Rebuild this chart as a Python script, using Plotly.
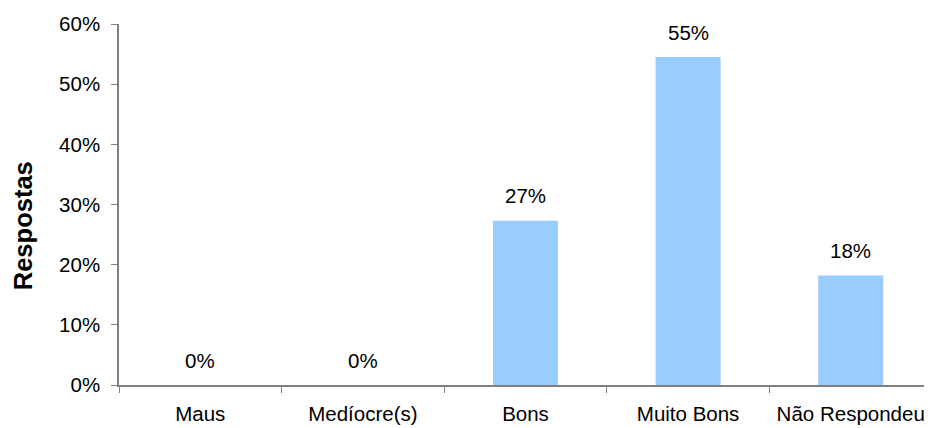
import plotly.graph_objects as go

categories = ["Maus", "Medíocre(s)", "Bons", "Muito Bons", "Não Respondeu"]
values = [0.0, 0.0, 0.273, 0.545, 0.182]
y_ticks = [0, 0.1, 0.2, 0.3, 0.4, 0.5, 0.6]
y_title = "Respostas"

font_family = "Liberation Sans, Arial, sans-serif"
FS = 20.5

fig = go.Figure()
fig.add_trace(go.Bar(
    x=categories, y=values,
    marker=dict(color="#99CCFF", line=dict(width=0)),
    width=0.4,
    hoverinfo="skip",
))

for c, v in zip(categories, values):
    fig.add_annotation(
        x=c, y=v, text=f"{round(v*100):.0f}%",
        showarrow=False, yanchor="middle", yshift=25,
        font=dict(family=font_family, size=FS, color="#000000"),
    )

# y-axis title placed as a rotated annotation (sits slightly below the plot centre in the reference)
fig.add_annotation(
    xref="paper", yref="paper", x=-0.118, y=0.44,
    xanchor="center", yanchor="middle", textangle=-90,
    text=f"<b>{y_title}</b>", showarrow=False,
    font=dict(family=font_family, size=25.5, color="#000000"),
)

# browser body adds 8px margin; compensate so the plot lands where the reference has it
fig.update_layout(
    width=924, height=420,
    margin=dict(l=111, r=0, t=16, b=43, autoexpand=False),
    paper_bgcolor="white", plot_bgcolor="white",
    showlegend=False,
    font=dict(family=font_family, size=FS, color="#000000"),
)
fig.update_xaxes(
    type="category",
    showline=True, linecolor="#808080", linewidth=1.5,
    ticks="outside", tickson="boundaries", ticklen=6, tickcolor="#808080",
    showgrid=False, zeroline=False,
    ticklabelstandoff=10,
    tickfont=dict(family=font_family, size=FS, color="#000000"),
)
fig.update_yaxes(
    range=[0, 0.6], tickvals=y_ticks, tickformat=".0%",
    showline=True, linecolor="#808080", linewidth=1.5,
    ticks="outside", ticklen=6, tickcolor="#808080",
    showgrid=False, zeroline=False,
    ticklabelstandoff=7,
    tickfont=dict(family=font_family, size=FS, color="#000000"),
)

fig.write_html("out.html")
